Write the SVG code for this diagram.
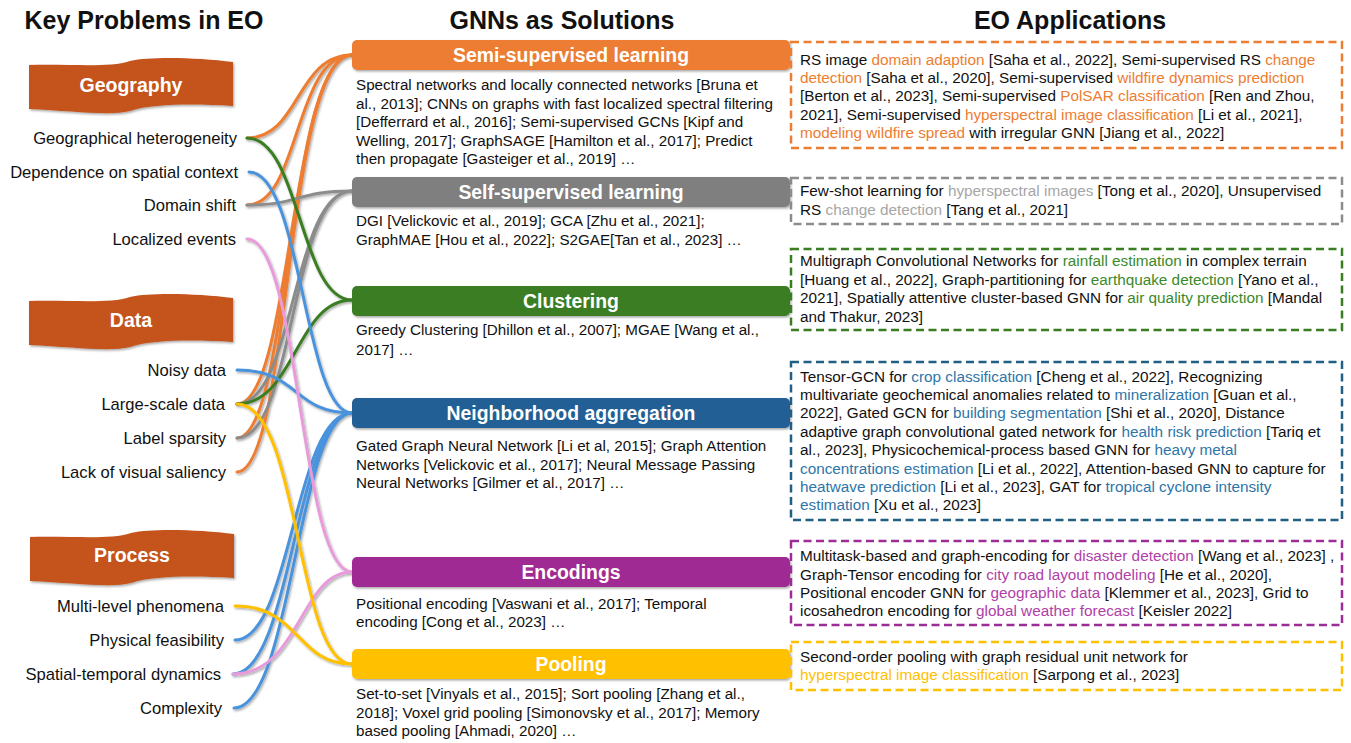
<svg xmlns="http://www.w3.org/2000/svg" width="1351" height="743" viewBox="0 0 1351 743">
<defs>
<filter id="sh" x="-20%" y="-20%" width="140%" height="140%">
<feDropShadow dx="1.2" dy="1.5" stdDeviation="1" flood-color="#000" flood-opacity="0.35"/>
</filter>
<path id="wave" d="M0,5 C45,4 80,8 101,1 C125,-4 170,-2 204,2 L204,46 C170,44 125,43 101,51 C80,56 45,51 0,49 Z"/>
</defs>
<style>
text{font-family:"Liberation Sans",Arial,sans-serif;fill:#111}
.title{font-size:25px;font-weight:bold;text-anchor:middle}
.ban{font-size:19.5px;font-weight:bold;fill:#fff;text-anchor:middle}
.item{font-size:16.6px;text-anchor:end}
.bar{font-size:19.4px;font-weight:bold;fill:#fff;text-anchor:middle}
.desc{font-size:15.2px}
.app{font-size:15.3px}
.c{fill:none;stroke-width:3;stroke-linecap:round}
.or{stroke:#ED7D31}.gr{stroke:#8C8C8C}.gn{stroke:#3A7D22}.bl{stroke:#4A93DC}.pk{stroke:#E89BDA}.yl{stroke:#FFC000}
.box{fill:none;stroke-width:2.5;stroke-dasharray:8 4.5}
.ho{fill:#ED7D31}.hg{fill:#A6A6A6}.hn{fill:#3A8A2A}.hb{fill:#2E75A8}.hp{fill:#B040A8}.hy{fill:#FFC000}
</style>

<text class="title" x="144" y="29">Key Problems in EO</text>
<text class="title" x="562" y="29">GNNs as Solutions</text>
<text class="title" x="1070" y="29">EO Applications</text>

<g id="problems">
<g id="geography">
<use href="#wave" x="29" y="60" fill="#C4521A" filter="url(#sh)"/>
<text class="ban" x="131" y="92">Geography</text>
<text class="item" x="237" y="144">Geographical heterogeneity</text>
<text class="item" x="238" y="178">Dependence on spatial context</text>
<text class="item" x="236" y="211">Domain shift</text>
<text class="item" x="236" y="245">Localized events</text>
</g>
<g id="data">
<use href="#wave" x="29" y="296" fill="#C4521A" filter="url(#sh)"/>
<text class="ban" x="131" y="327">Data</text>
<text class="item" x="226" y="376">Noisy data</text>
<text class="item" x="225" y="410">Large-scale data</text>
<text class="item" x="226" y="444">Label sparsity</text>
<text class="item" x="226" y="478">Lack of visual saliency</text>
</g>
<g id="process">
<use href="#wave" x="30" y="532" fill="#C4521A" filter="url(#sh)"/>
<text class="ban" x="132" y="562">Process</text>
<text class="item" x="224" y="612">Multi-level phenomena</text>
<text class="item" x="224" y="646">Physical feasibility</text>
<text class="item" x="221" y="680">Spatial-temporal dynamics</text>
<text class="item" x="222" y="714">Complexity</text>
</g>
</g>

<g id="connectors" filter="url(#sh)">
<path class="c or" d="M247,138 C300,138 296,55 352,55"/>
<path class="c or" d="M247,205 C300,205 294,55 352,55"/>
<path class="c or" d="M237,404 C292,404 290,55 352,55"/>
<path class="c or" d="M237,438 C290,438 288,55 352,55"/>
<path class="c or" d="M237,472 C290,472 286,55 352,55"/>
<path class="c gr" d="M247,205 C300,205 296,191 352,191"/>
<path class="c gr" d="M237,404 C295,404 292,191 352,191"/>
<path class="c gr" d="M237,438 C295,438 290,191 352,191"/>
<path class="c gn" d="M247,138 C300,138 300,300 352,300"/>
<path class="c gn" d="M237,404 C295,404 296,300 352,300"/>
<path class="c bl" d="M249,172 C302,172 304,413 352,413"/>
<path class="c bl" d="M237,370 C300,370 292,413 352,413"/>
<path class="c bl" d="M235,640 C292,640 294,413 352,413"/>
<path class="c bl" d="M233,674 C292,674 296,413 352,413"/>
<path class="c bl" d="M234,708 C292,708 298,413 352,413"/>
<path class="c pk" d="M247,239 C300,239 300,572 352,572"/>
<path class="c pk" d="M233,674 C300,674 300,572 352,572"/>
<path class="c yl" d="M237,404 C300,404 296,664 352,664"/>
<path class="c yl" d="M235,606 C300,606 296,664 352,664"/>
</g>

<g id="semi-supervised">
<rect x="352" y="40" width="438" height="30" rx="5" fill="#ED7D31" filter="url(#sh)"/>
<text class="bar" x="571" y="62">Semi-supervised learning</text>
<text class="desc" x="356" y="90">Spectral networks and locally connected networks [Bruna et</text>
<text class="desc" x="356" y="109">al., 2013]; CNNs on graphs with fast localized spectral filtering</text>
<text class="desc" x="356" y="127">[Defferrard et al., 2016]; Semi-supervised GCNs [Kipf and</text>
<text class="desc" x="356" y="146">Welling, 2017]; GraphSAGE [Hamilton et al., 2017]; Predict</text>
<text class="desc" x="356" y="164">then propagate [Gasteiger et al., 2019] …</text>
</g>
<g id="self-supervised">
<rect x="352" y="177" width="438" height="30" rx="5" fill="#7F7F7F" filter="url(#sh)"/>
<text class="bar" x="571" y="199">Self-supervised learning</text>
<text class="desc" x="356" y="226">DGI [Velickovic et al., 2019]; GCA [Zhu et al., 2021];</text>
<text class="desc" x="356" y="245">GraphMAE [Hou et al., 2022]; S2GAE[Tan et al., 2023] …</text>
</g>
<g id="clustering">
<rect x="352" y="286" width="438" height="30" rx="5" fill="#3A7D22" filter="url(#sh)"/>
<text class="bar" x="571" y="308">Clustering</text>
<text class="desc" x="356" y="335">Greedy Clustering [Dhillon et al., 2007]; MGAE [Wang et al.,</text>
<text class="desc" x="356" y="355">2017] …</text>
</g>
<g id="neighborhood">
<rect x="352" y="398" width="438" height="30" rx="5" fill="#245E95" filter="url(#sh)"/>
<text class="bar" x="571" y="420">Neighborhood aggregation</text>
<text class="desc" x="356" y="451">Gated Graph Neural Network [Li et al, 2015]; Graph Attention</text>
<text class="desc" x="356" y="470">Networks [Velickovic et al., 2017]; Neural Message Passing</text>
<text class="desc" x="356" y="488">Neural Networks [Gilmer et al., 2017] …</text>
</g>
<g id="encodings">
<rect x="352" y="557" width="438" height="30" rx="5" fill="#A02B93" filter="url(#sh)"/>
<text class="bar" x="571" y="579">Encodings</text>
<text class="desc" x="356" y="609">Positional encoding [Vaswani et al., 2017]; Temporal</text>
<text class="desc" x="356" y="627">encoding [Cong et al., 2023] …</text>
</g>
<g id="pooling">
<rect x="352" y="649" width="438" height="30" rx="5" fill="#FFC000" filter="url(#sh)"/>
<text class="bar" x="571" y="671">Pooling</text>
<text class="desc" x="356" y="699">Set-to-set [Vinyals et al., 2015]; Sort pooling [Zhang et al.,</text>
<text class="desc" x="356" y="718">2018]; Voxel grid pooling [Simonovsky et al., 2017]; Memory</text>
<text class="desc" x="356" y="736">based pooling [Ahmadi, 2020] …</text>
</g>

<g id="app-semi">
<rect class="box" x="791" y="42" width="551" height="106" stroke="#ED7D31"/>
<text class="app" x="800" y="65">RS image <tspan class="ho">domain adaption</tspan> [Saha et al., 2022], Semi-supervised RS <tspan class="ho">change</tspan></text>
<text class="app" x="800" y="83"><tspan class="ho">detection</tspan> [Saha et al., 2020], Semi-supervised <tspan class="ho">wildfire dynamics prediction</tspan></text>
<text class="app" x="800" y="101">[Berton et al., 2023], Semi-supervised <tspan class="ho">PolSAR classification</tspan> [Ren and Zhou,</text>
<text class="app" x="800" y="120">2021], Semi-supervised <tspan class="ho">hyperspectral image classification</tspan> [Li et al., 2021],</text>
<text class="app" x="800" y="138"><tspan class="ho">modeling wildfire spread</tspan> with irregular GNN [Jiang et al., 2022]</text>
</g>
<g id="app-self">
<rect class="box" x="791" y="178" width="551" height="46" stroke="#8C8C8C"/>
<text class="app" x="800" y="196">Few-shot learning for <tspan class="hg">hyperspectral images</tspan> [Tong et al., 2020], Unsupervised</text>
<text class="app" x="800" y="215">RS <tspan class="hg">change detection</tspan> [Tang et al., 2021]</text>
</g>
<g id="app-clustering">
<rect class="box" x="791" y="249" width="551" height="81" stroke="#3A7D22"/>
<text class="app" x="800" y="266">Multigraph Convolutional Networks for <tspan class="hn">rainfall estimation</tspan> in complex terrain</text>
<text class="app" x="800" y="285">[Huang et al., 2022], Graph-partitioning for <tspan class="hn">earthquake detection</tspan> [Yano et al.,</text>
<text class="app" x="800" y="303">2021], Spatially attentive cluster-based GNN for <tspan class="hn">air quality prediction</tspan> [Mandal</text>
<text class="app" x="800" y="322">and Thakur, 2023]</text>
</g>
<g id="app-neighborhood">
<rect class="box" x="791" y="362" width="551" height="158" stroke="#215F85"/>
<text class="app" x="800" y="382">Tensor-GCN for <tspan class="hb">crop classification</tspan> [Cheng et al., 2022], Recognizing</text>
<text class="app" x="800" y="400">multivariate geochemical anomalies related to <tspan class="hb">mineralization</tspan> [Guan et al.,</text>
<text class="app" x="800" y="418">2022], Gated GCN for <tspan class="hb">building segmentation</tspan> [Shi et al., 2020], Distance</text>
<text class="app" x="800" y="437">adaptive graph convolutional gated network for <tspan class="hb">health risk prediction</tspan> [Tariq et</text>
<text class="app" x="800" y="455">al., 2023], Physicochemical-process based GNN for <tspan class="hb">heavy metal</tspan></text>
<text class="app" x="800" y="474"><tspan class="hb">concentrations estimation</tspan> [Li et al., 2022], Attention-based GNN to capture for</text>
<text class="app" x="800" y="492"><tspan class="hb">heatwave prediction</tspan> [Li et al., 2023], GAT for <tspan class="hb">tropical cyclone intensity</tspan></text>
<text class="app" x="800" y="510"><tspan class="hb">estimation</tspan> [Xu et al., 2023]</text>
</g>
<g id="app-encodings">
<rect class="box" x="791" y="541" width="551" height="84" stroke="#9E2C96"/>
<text class="app" x="800" y="561">Multitask-based and graph-encoding for <tspan class="hp">disaster detection</tspan> [Wang et al., 2023] ,</text>
<text class="app" x="800" y="580">Graph-Tensor encoding for <tspan class="hp">city road layout modeling</tspan> [He et al., 2020],</text>
<text class="app" x="800" y="598">Positional encoder GNN for <tspan class="hp">geographic data</tspan> [Klemmer et al., 2023], Grid to</text>
<text class="app" x="800" y="616">icosahedron encoding for <tspan class="hp">global weather forecast</tspan> [Keisler 2022]</text>
</g>
<g id="app-pooling">
<rect class="box" x="791" y="642" width="551" height="48" stroke="#FFC000"/>
<text class="app" x="800" y="662">Second-order pooling with graph residual unit network for</text>
<text class="app" x="800" y="680"><tspan class="hy">hyperspectral image classification</tspan> [Sarpong et al., 2023]</text>
</g>
</svg>
